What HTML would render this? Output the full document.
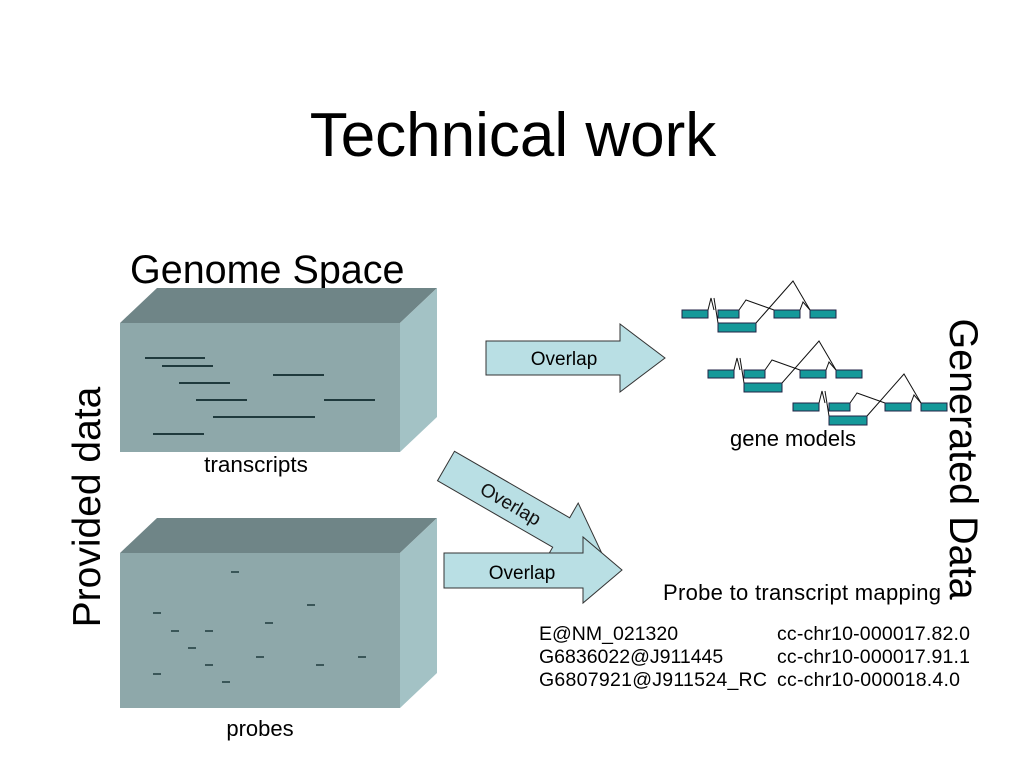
<!DOCTYPE html>
<html><head><style>body{margin:0;background:#fff}svg{display:block}text{font-family:"Liberation Sans",sans-serif}</style></head><body>
<svg width="1024" height="768" viewBox="0 0 1024 768">
<text x="513" y="156" font-size="62" text-anchor="middle">Technical work</text>
<text x="130" y="283" font-size="39.5">Genome Space</text>
<text transform="translate(100,507) rotate(-90)" font-size="39" text-anchor="middle">Provided data</text>
<text transform="translate(950,459) rotate(90)" font-size="39.5" text-anchor="middle">Generated Data</text>
<!-- box 1 -->
<polygon points="120,323 157,288 437,288 400,323" fill="#6f8587"/>
<polygon points="400,323 437,288 437,417 400,452" fill="#a3c2c5"/>
<rect x="120" y="323" width="280" height="129" fill="#8ea8aa"/>
<g stroke="#1f3a3d" stroke-width="2">
<line x1="145" y1="358" x2="205" y2="358"/><line x1="162" y1="366" x2="213" y2="366"/>
<line x1="179" y1="383" x2="230" y2="383"/><line x1="196" y1="400" x2="247" y2="400"/>
<line x1="213" y1="417" x2="315" y2="417"/><line x1="153" y1="434" x2="204" y2="434"/>
<line x1="273" y1="375" x2="324" y2="375"/><line x1="324" y1="400" x2="375" y2="400"/>
</g>
<text x="256" y="472" font-size="22.5" text-anchor="middle">transcripts</text>
<!-- box 2 -->
<polygon points="120,553 157,518 437,518 400,553" fill="#6f8587"/>
<polygon points="400,553 437,518 437,673 400,708" fill="#a3c2c5"/>
<rect x="120" y="553" width="280" height="155" fill="#8ea8aa"/>
<g stroke="#1f3a3d" stroke-width="1.5">
<line x1="231" y1="572" x2="239" y2="572"/><line x1="307" y1="605" x2="315" y2="605"/>
<line x1="153" y1="613" x2="161" y2="613"/><line x1="265" y1="623" x2="273" y2="623"/>
<line x1="171" y1="631" x2="179" y2="631"/><line x1="205" y1="631" x2="213" y2="631"/>
<line x1="188" y1="648" x2="196" y2="648"/><line x1="256" y1="657" x2="264" y2="657"/>
<line x1="358" y1="657" x2="366" y2="657"/><line x1="205" y1="665" x2="213" y2="665"/>
<line x1="316" y1="665" x2="324" y2="665"/><line x1="153" y1="674" x2="161" y2="674"/>
<line x1="222" y1="682" x2="230" y2="682"/>
</g>
<text x="260" y="736" font-size="22" text-anchor="middle">probes</text>
<!-- arrows -->
<g fill="#b9dfe4" stroke="#333" stroke-width="1">
<polygon points="486,341 620,341 620,324 665,358 620,392 620,375 486,375"/>
<g transform="translate(446,466) rotate(30)">
<polygon points="0,-17 133,-17 133,-34 182,0 133,34 133,17 0,17"/>
<text x="75" y="7" font-size="19" text-anchor="middle" fill="#111" stroke="none">Overlap</text>
</g>
<polygon points="444,553 583,553 583,537 622,570 583,603 583,588 444,588"/>
</g>
<text x="564" y="365" font-size="19" text-anchor="middle">Overlap</text>
<text x="522" y="579" font-size="19" text-anchor="middle">Overlap</text>
<!-- gene models -->
<defs><g id="gm">
<g fill="#15999a" stroke="#224" stroke-width="1">
<rect x="682" y="310" width="26" height="8"/><rect x="718" y="310" width="21" height="8"/>
<rect x="774" y="310" width="26" height="8"/><rect x="810" y="310" width="26" height="8"/>
<rect x="718" y="323" width="38" height="9"/>
</g>
<polyline points="708,310 711,298 714,310" fill="none" stroke="#111"/>
<polyline points="714,298 718,323" fill="none" stroke="#111"/>
<polyline points="739,310 746,300 774,310" fill="none" stroke="#111"/>
<polyline points="756,323 793,281 810,310" fill="none" stroke="#111"/>
<polyline points="800,310 803,302 810,310" fill="none" stroke="#111"/>
</g></defs>
<use href="#gm"/>
<use href="#gm" transform="translate(26,60)"/>
<use href="#gm" transform="translate(111,93)"/>
<text x="793" y="446" font-size="22" text-anchor="middle">gene models</text>
<text x="663" y="600" font-size="22" textLength="278">Probe to transcript mapping</text>
<g font-size="19.5">
<text x="539" y="640">E@NM_021320</text><text x="777" y="640" textLength="193">cc-chr10-000017.82.0</text>
<text x="539" y="663">G6836022@J911445</text><text x="777" y="663" textLength="193">cc-chr10-000017.91.1</text>
<text x="539" y="686" textLength="228">G6807921@J911524_RC</text><text x="777" y="686" textLength="183">cc-chr10-000018.4.0</text>
</g>
</svg>
</body></html>
